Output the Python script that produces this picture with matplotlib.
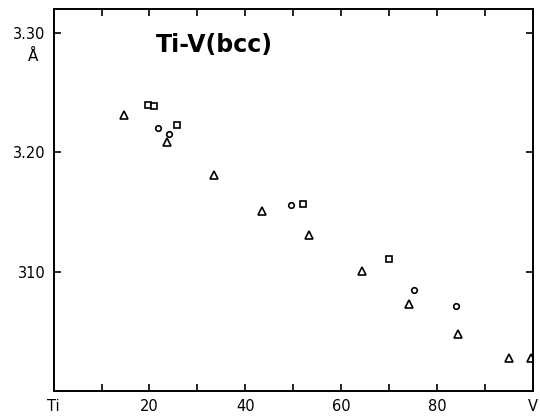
import matplotlib
matplotlib.use("Agg")
import matplotlib.pyplot as plt

# Data (at.% V, lattice parameter in Å)
tri_x = [14.6, 23.6, 33.4, 43.5, 53.4, 64.4, 74.2, 84.3, 95.1, 99.7]
tri_y = [3.231, 3.209, 3.181, 3.151, 3.131, 3.101, 3.073, 3.048, 3.028, 3.028]
circ_x = [21.7, 24.1, 49.6, 75.3, 84.0]
circ_y = [3.220, 3.215, 3.156, 3.085, 3.071]
sq_x = [19.6, 20.9, 25.8, 52.0, 69.9]
sq_y = [3.240, 3.239, 3.223, 3.157, 3.111]

xticks_major = [0, 20, 40, 60, 80, 100]
xtick_labels = ["Ti", "20", "40", "60", "80", "V"]
xticks_minor = [10, 30, 50, 70, 90]
yticks = [3.30, 3.20, 3.10]
ytick_labels = ["3.30", "3.20", "310"]

fig = plt.figure(figsize=(5.4, 4.16), dpi=100)
ax = fig.add_axes([0.0994, 0.060, 0.8871, 0.918])

ax.plot(tri_x, tri_y, linestyle="none", marker="^", markersize=5.5,
        markerfacecolor="white", markeredgecolor="black", markeredgewidth=1.2)
ax.plot(circ_x, circ_y, linestyle="none", marker="o", markersize=4,
        markerfacecolor="white", markeredgecolor="black", markeredgewidth=1.2)
ax.plot(sq_x, sq_y, linestyle="none", marker="s", markersize=3.8,
        markerfacecolor="white", markeredgecolor="black", markeredgewidth=1.2)

ax.set_xlim(0, 100)
ax.set_ylim(3.00, 3.32)

ax.set_xticks(xticks_major)
ax.set_xticklabels(xtick_labels)
ax.set_xticks(xticks_minor, minor=True)
ax.set_yticks(yticks)
ax.set_yticklabels(ytick_labels)

ax.tick_params(axis="both", which="both", direction="in", top=True, right=True,
               length=5, width=1.2, labelsize=10.5, pad=6)

for s in ax.spines.values():
    s.set_linewidth(1.4)

ax.text(0.214, 0.906, "Ti-V(bcc)", transform=ax.transAxes, fontsize=17,
        fontweight="bold", ha="left", va="center")

fig.text(33 / 540, 1 - 56 / 416, "Å", fontsize=11, ha="center", va="center")

fig.savefig("out.png", dpi=100)
